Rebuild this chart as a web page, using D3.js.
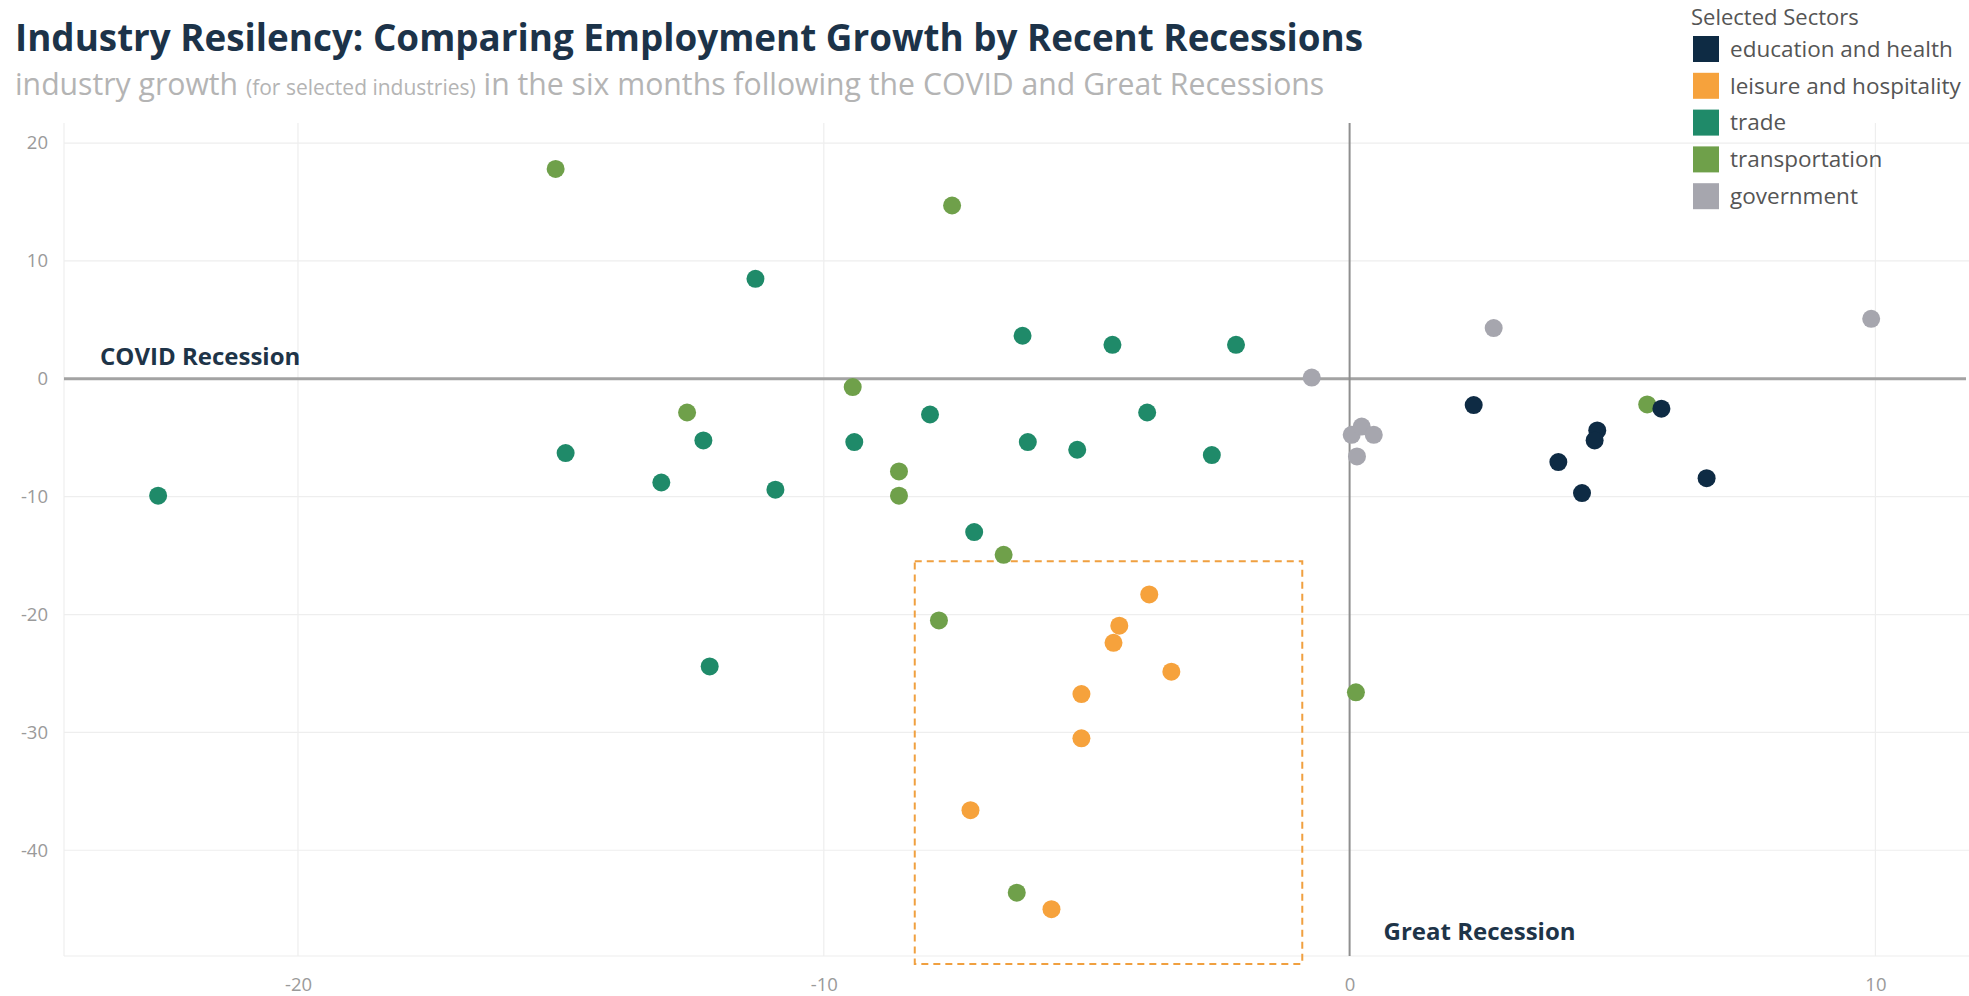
<!DOCTYPE html>
<html>
<head>
<meta charset="utf-8">
<script src="https://cdn.jsdelivr.net/npm/d3@7"></script>
<style>
  html, body { margin: 0; padding: 0; background: #ffffff; }
  svg { display: block; font-family: "Open Sans", "Noto Sans", sans-serif; }
</style>
</head>
<body>
<svg id="chart" width="1969" height="996"></svg>
<script>
// Employment growth (%) in the six months after each recession.
// x: Great Recession, y: COVID Recession.
const sectors = ["education and health", "leisure and hospitality", "trade", "transportation", "government"];

const eduGreat = [2.36, 5.93, 4.71, 4.66, 3.97, 4.42, 6.79];
const eduCovid = [-2.23, -2.54, -4.38, -5.23, -7.07, -9.70, -8.43];

const leisureGreat = [-3.81, -4.38, -4.49, -3.39, -5.10, -5.10, -7.21, -5.67];
const leisureCovid = [-18.3, -20.95, -22.4, -24.85, -26.75, -30.5, -36.6, -45.0];

const tradeGreat = [-22.66, -14.91, -13.09, -11.30, -6.22, -4.51, -2.16, -12.29, -7.98, -3.85, -9.42, -6.12, -5.18, -2.62, -10.92, -7.14, -12.17];
const tradeCovid = [-9.92, -6.30, -8.80, 8.48, 3.65, 2.88, 2.88, -5.23, -3.03, -2.86, -5.37, -5.37, -6.02, -6.47, -9.41, -13.0, -24.4];

const transportGreat = [-15.1, -7.56, -9.45, -12.6, -8.57, -8.57, -6.58, -7.81, -6.33, 0.12, 5.66];
const transportCovid = [17.8, 14.7, -0.7, -2.86, -7.86, -9.92, -14.93, -20.5, -43.6, -26.6, -2.18];

const govGreat = [2.74, 9.92, -0.72, 0.04, 0.23, 0.46, 0.14];
const govCovid = [4.30, 5.09, 0.10, -4.75, -4.05, -4.75, -6.59];

const xTicks = [-20, -10, 0, 10];
const yTicks = [20, 10, 0, -10, -20, -30, -40];

// Highlighted region around the leisure and hospitality cluster (data units)
const highlightGreat = [-8.27, -0.90];
const highlightCovid = [-15.49, -49.64];

const palette = ["#0e2b44", "#f6a23c", "#1f8a69", "#6fa04a", "#a6a6ae"];

const series = [
  { sector: sectors[4], xs: govGreat, ys: govCovid },
  { sector: sectors[2], xs: tradeGreat, ys: tradeCovid },
  { sector: sectors[3], xs: transportGreat, ys: transportCovid },
  { sector: sectors[1], xs: leisureGreat, ys: leisureCovid },
  { sector: sectors[0], xs: eduGreat, ys: eduCovid }
];
const points = series.flatMap(s => s.xs.map((x, i) => ({ sector: s.sector, x, y: s.ys[i] })));

const svg = d3.select("#chart");
const plot = { left: 64, right: 1969, top: 123, bottom: 956 };

const x = d3.scaleLinear().domain([-24.45, 11.78]).range([plot.left, plot.right]);
const y = d3.scaleLinear().domain([21.7, -48.97]).range([plot.top, plot.bottom]);
const color = d3.scaleOrdinal().domain(sectors).range(palette);

// Title block
svg.append("text")
  .attr("x", 15).attr("y", 51)
  .attr("font-size", 36.8).attr("font-weight", 700)
  .attr("fill", "#1c3349")
  .text("Industry Resilency: Comparing Employment Growth by Recent Recessions");

const sub = svg.append("text")
  .attr("x", 15).attr("y", 95)
  .attr("font-size", 30.2).attr("fill", "#b4b4b4");
sub.append("tspan").text("industry growth ");
sub.append("tspan").attr("font-size", 21).text("(for selected industries)");
sub.append("tspan").text(" in the six months following the COVID and Great Recessions");

// Grid
const grid = svg.append("g");
grid.selectAll("line.h")
  .data(yTicks.filter(d => d !== 0))
  .join("line")
  .attr("x1", plot.left).attr("x2", plot.right)
  .attr("y1", d => y(d)).attr("y2", d => y(d))
  .attr("stroke", "#eeeeee").attr("stroke-width", 1.2);
grid.selectAll("line.v")
  .data(xTicks.filter(d => d !== 0))
  .join("line")
  .attr("x1", d => x(d)).attr("x2", d => x(d))
  .attr("y1", plot.top).attr("y2", plot.bottom)
  .attr("stroke", "#eeeeee").attr("stroke-width", 1.2);
grid.append("line")
  .attr("x1", plot.left).attr("x2", plot.left)
  .attr("y1", plot.top).attr("y2", plot.bottom)
  .attr("stroke", "#eeeeee").attr("stroke-width", 1.2);
grid.append("line")
  .attr("x1", plot.left).attr("x2", plot.right)
  .attr("y1", plot.bottom).attr("y2", plot.bottom)
  .attr("stroke", "#eeeeee").attr("stroke-width", 1.2);

// Axes (labels only)
const plain = d => String(d);
const yAxis = svg.append("g")
  .attr("transform", `translate(${plot.left - 16},0)`)
  .call(d3.axisLeft(y).tickValues(yTicks).tickFormat(plain).tickSize(0).tickPadding(0));
const xAxis = svg.append("g")
  .attr("transform", `translate(0,${plot.bottom + 22})`)
  .call(d3.axisBottom(x).tickValues(xTicks).tickFormat(plain).tickSize(0).tickPadding(0));
[xAxis, yAxis].forEach(g => {
  g.select(".domain").remove();
  g.selectAll("text")
    .attr("font-family", "'Open Sans', sans-serif")
    .attr("font-size", 18.5)
    .attr("fill", "#9a9a9a");
});

// Recession reference lines
svg.append("line")
  .attr("x1", plot.left).attr("x2", plot.right - 3)
  .attr("y1", y(0)).attr("y2", y(0))
  .attr("stroke", "#a3a3a3").attr("stroke-width", 3);
svg.append("line")
  .attr("x1", x(0)).attr("x2", x(0))
  .attr("y1", plot.top).attr("y2", plot.bottom)
  .attr("stroke", "#8f8f8f").attr("stroke-width", 2);

svg.append("text")
  .attr("x", 100).attr("y", y(0) - 14)
  .attr("font-size", 24).attr("font-weight", 700)
  .attr("fill", "#1e3448")
  .text("COVID Recession");
svg.append("text")
  .attr("x", x(0) + 34).attr("y", 940)
  .attr("font-size", 24).attr("font-weight", 700)
  .attr("fill", "#1e3448")
  .text("Great Recession");

// Highlight box
svg.append("rect")
  .attr("x", x(highlightGreat[0]))
  .attr("y", y(highlightCovid[0]))
  .attr("width", x(highlightGreat[1]) - x(highlightGreat[0]))
  .attr("height", y(highlightCovid[1]) - y(highlightCovid[0]))
  .attr("fill", "none")
  .attr("stroke", "#f0a040").attr("stroke-width", 2)
  .attr("stroke-dasharray", "7,5");

// Points
svg.append("g").selectAll("circle")
  .data(points)
  .join("circle")
  .attr("cx", d => x(d.x))
  .attr("cy", d => y(d.y))
  .attr("r", 9)
  .attr("fill", d => color(d.sector));

// Legend
const legend = svg.append("g").attr("transform", "translate(1691,0)");
legend.append("text")
  .attr("x", 0).attr("y", 25)
  .attr("font-size", 22).attr("fill", "#555555")
  .text("Selected Sectors");
const rows = legend.selectAll("g.row")
  .data(sectors)
  .join("g")
  .attr("transform", (d, i) => `translate(2,${49 + i * 36.8})`);
rows.append("rect")
  .attr("x", 0).attr("y", -13)
  .attr("width", 26).attr("height", 26)
  .attr("fill", d => color(d));
rows.append("text")
  .attr("x", 37).attr("y", 0)
  .attr("dy", "0.35em")
  .attr("font-size", 22.5).attr("fill", "#555555")
  .text(d => d);
</script>
</body>
</html>
